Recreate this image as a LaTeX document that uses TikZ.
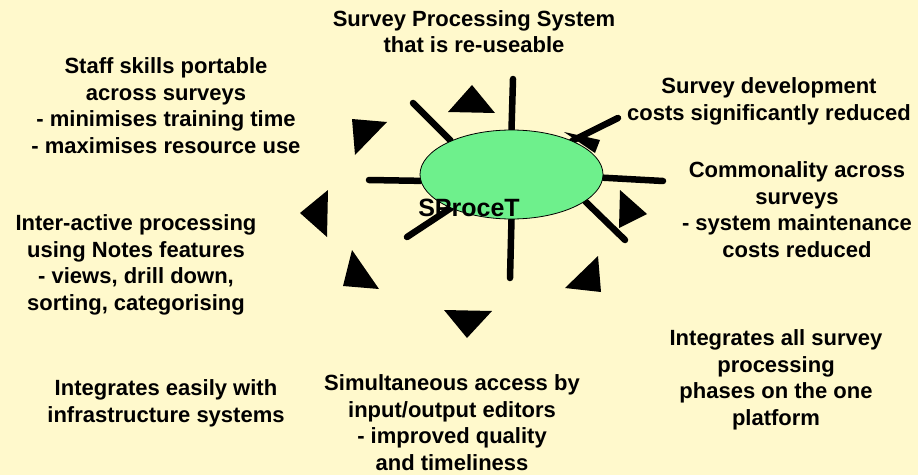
\documentclass[tikz,border=0pt]{standalone}
\usepackage{fontspec}
\setmainfont{Liberation Sans}
\usetikzlibrary{shapes.geometric,backgrounds}
\definecolor{paper}{RGB}{255,249,204}
\definecolor{hubgreen}{RGB}{110,240,140}
\tikzset{
  base/.style={font=\fontsize{22}{26.5}\selectfont\bfseries, align=center, inner sep=0pt, outer sep=0mm},
  note/.style={base, anchor=base},
  hub/.style={ellipse, draw=black, line width=0.8pt, fill=hubgreen, minimum width=183pt, minimum height=89pt, inner sep=0pt},
  spoke/.style={line width=6.5pt, line cap=round, color=black},
  pointer/.style={fill=black}
}

\begin{document}
\begin{tikzpicture}[x=1pt, y=1pt]

  \useasboundingbox (0,0) rectangle (918,475);
  \begin{scope}[on background layer]
    \fill[paper] (0,0) rectangle (918,475);
  \end{scope}

  % triangles round the hub
  \fill[pointer] (448,363) -- (495,362) -- (472,390) -- cycle;
  \fill[pointer] (352,356) -- (387,353) -- (355,320) -- cycle;
  \fill[pointer] (564,343) -- (600,335) -- (595,322) -- cycle;
  \fill[pointer] (300,262) -- (328,285) -- (327,238) -- cycle;
  \fill[pointer] (620,285) -- (647,261) -- (619,247) -- cycle;
  \fill[pointer] (352,225) -- (343,189) -- (379,186) -- cycle;
  \fill[pointer] (598,219) -- (565,187) -- (601,183) -- cycle;
  \fill[pointer] (444,165) -- (492,164) -- (467,137) -- cycle;

  \node[hub] (hub) at (511.5,300.5) {};
  \node[base, font=\fontsize{25}{30}\selectfont\bfseries, anchor=base] (sprocet) at (469,259) {SProceT};

  \coordinate (n)  at (513,396);
  \coordinate (nw) at (413,372);
  \coordinate (ne) at (618,357);
  \coordinate (w)  at (369,295);
  \coordinate (e)  at (663,294);
  \coordinate (sw) at (407,238);
  \coordinate (s)  at (510,197);
  \coordinate (se) at (625,235);

  \begin{scope}[on background layer]
    \draw[spoke] (hub.90)  -- (n);
    \draw[spoke] (hub.151) -- (nw);
    \draw[spoke] (hub.29)  -- (ne);
    \draw[spoke] (hub.184) -- (w);
    \draw[spoke] (hub.358) -- (e);
    \draw[spoke] (hub.209) -- (sw);
    \draw[spoke] (hub.270) -- (s);
    \draw[spoke] (hub.340) -- (se);
  \end{scope}

  % labels, placed by the baseline of their last line
  \node[note] (reuse) at (474,422) {Survey Processing System\\that is re-useable};
  \node[note] (skills) at (166,322) {Staff skills portable\\across surveys\\- minimises training time\\- maximises resource use};
  \node[note] (devcost) at (769,355) {Survey development\\costs significantly reduced};
  \node[note] (common) at (797,218) {Commonality across\\surveys\\- system maintenance\\costs reduced};
  \node[note] (notes) at (136,165) {Inter-active processing\\using Notes features\\- views, drill down,\\sorting, categorising};
  \node[note] (infra) at (166,53) {Integrates easily with\\infrastructure systems};
  \node[note] (access) at (452,5) {Simultaneous access by\\input/output editors\\- improved quality\\and timeliness};
  \node[note] (phases) at (776,50) {Integrates all survey\\processing\\phases on the one\\platform};
\end{tikzpicture}
\end{document}
